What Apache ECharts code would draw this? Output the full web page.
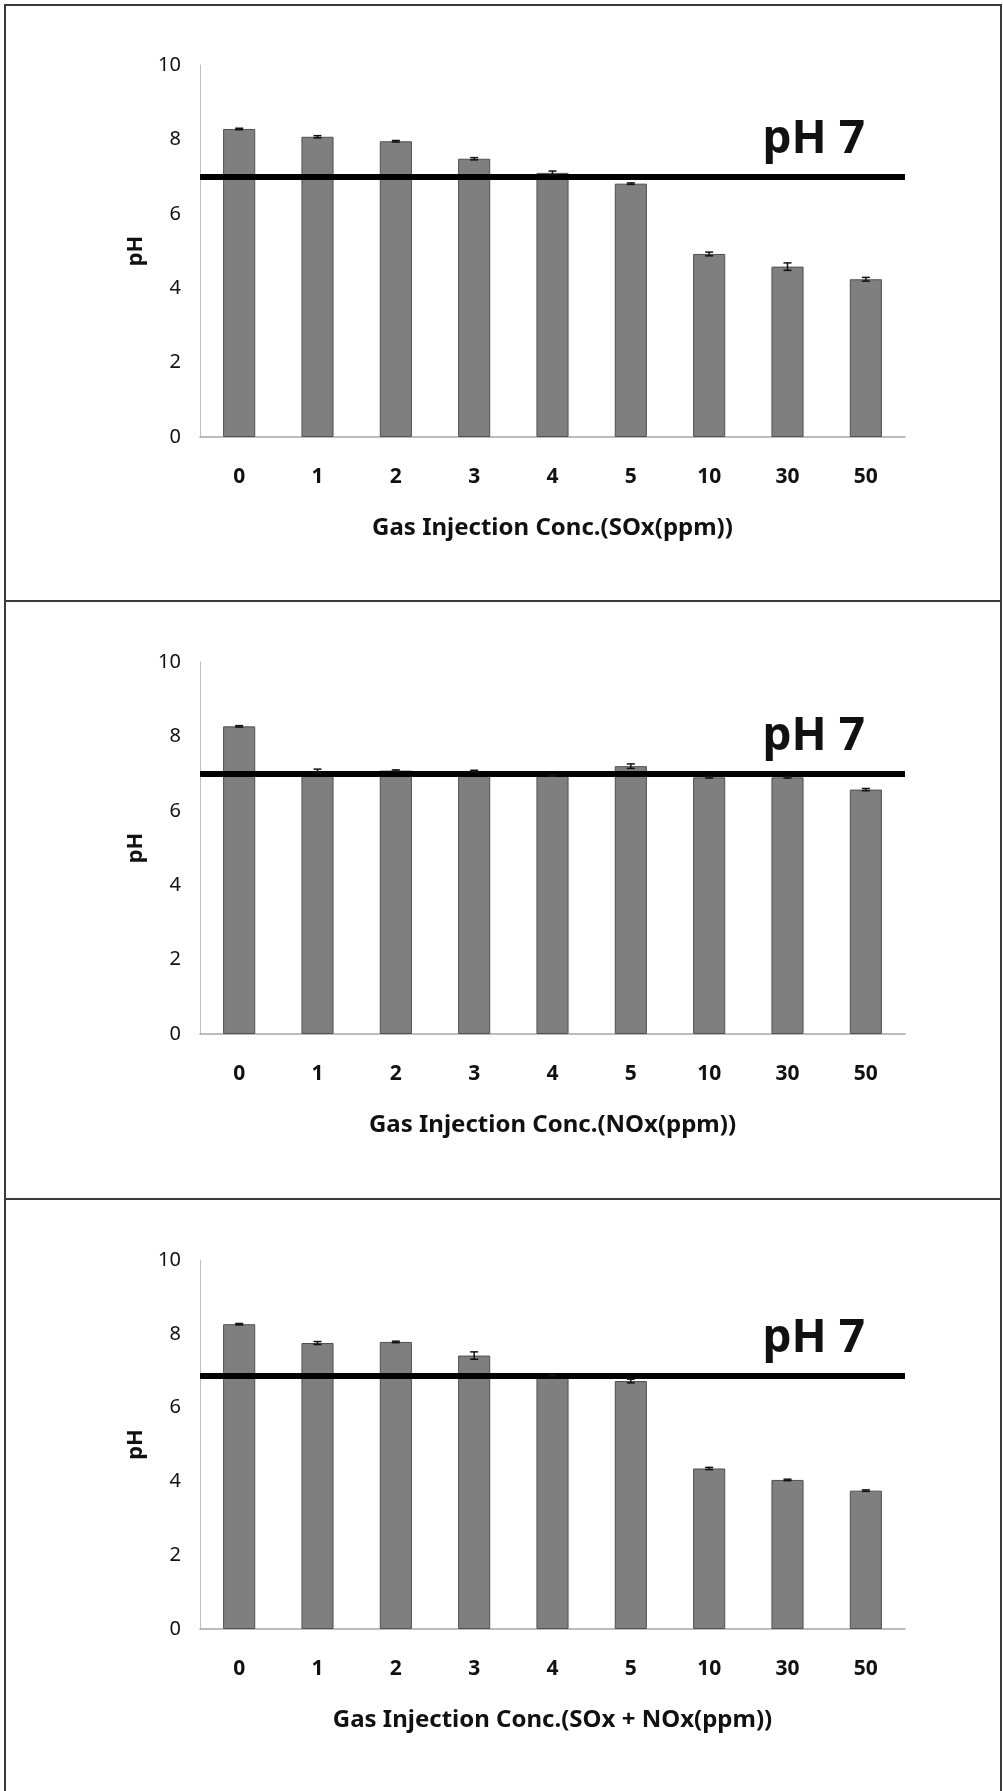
<!DOCTYPE html>
<html>
<head>
<meta charset="utf-8">
<script src="https://cdn.jsdelivr.net/npm/echarts@6/dist/echarts.min.js"></script>
<style>
  html, body { margin: 0; padding: 0; background: #fff; }
  #chart { width: 1003px; height: 1791px; }
</style>
</head>
<body>
<div id="chart"></div>
<script>
// x categories (gas concentration, ppm)
const categories = ['0', '1', '2', '3', '4', '5', '10', '30', '50'];

// pH
const soxPH = [8.28, 8.07, 7.95, 7.48, 7.10, 6.81, 4.92, 4.58, 4.24];
const noxPH = [8.27, 7.07, 7.08, 7.07, 6.95, 7.20, 6.90, 6.90, 6.57];
const mixPH = [8.26, 7.75, 7.78, 7.41, 6.88, 6.72, 4.35, 4.04, 3.75];

// error bar half widths
const soxErr = [0.02, 0.03, 0.02, 0.03, 0.05, 0.02, 0.05, 0.10, 0.05];
const noxErr = [0.02, 0.05, 0.02, 0.02, 0.02, 0.06, 0.02, 0.02, 0.03];
const mixErr = [0.02, 0.04, 0.02, 0.10, 0.02, 0.05, 0.03, 0.02, 0.02];

// reference line drawn in each panel
const refLines = [7, 7, 6.85];

const xTitles = [
  'Gas Injection Conc.(SOx(ppm))',
  'Gas Injection Conc.(NOx(ppm))',
  'Gas Injection Conc.(SOx + NOx(ppm))'
];

const FONT = '"Noto Sans", "Open Sans", sans-serif';

const panels = [
  { values: soxPH, errs: soxErr, top: 65, height: 372 },
  { values: noxPH, errs: noxErr, top: 662, height: 372 },
  { values: mixPH, errs: mixErr, top: 1260, height: 369 }
];

const chart = echarts.init(document.getElementById('chart'));

const grids = [];
const xAxes = [];
const yAxes = [];
const series = [];

panels.forEach(function(p, i) {
  grids.push({ left: 200, width: 705, top: p.top, height: p.height });

  xAxes.push({
    type: 'category',
    gridIndex: i,
    data: categories,
    axisTick: { show: false },
    axisLine: { lineStyle: { color: '#a6a6a6', width: 1.5 } },
    axisLabel: {
      margin: 30,
      fontFamily: FONT,
      fontWeight: 'bold',
      fontSize: 21,
      color: '#111'
    },
    name: xTitles[i],
    nameLocation: 'middle',
    nameGap: 79,
    nameTextStyle: {
      fontFamily: FONT,
      fontWeight: 'bold',
      fontSize: 24,
      color: '#111'
    }
  });

  yAxes.push({
    type: 'value',
    gridIndex: i,
    min: 0,
    max: 10,
    interval: 2,
    splitLine: { show: false },
    axisTick: { show: false },
    axisLine: { show: true, lineStyle: { color: '#bfbfbf', width: 1 } },
    axisLabel: {
      margin: 19,
      fontFamily: FONT,
      fontSize: 20,
      color: '#111'
    },
    name: 'pH',
    nameLocation: 'middle',
    nameGap: 48,
    nameRotate: 90,
    nameTextStyle: {
      fontFamily: FONT,
      fontWeight: 'bold',
      fontSize: 22,
      color: '#111'
    }
  });

  series.push({
    type: 'bar',
    xAxisIndex: i,
    yAxisIndex: i,
    data: p.values,
    barWidth: '41%',
    itemStyle: { color: '#7f7f7f', borderColor: '#505050', borderWidth: 1 },
    markLine: {
      silent: true,
      symbol: 'none',
      lineStyle: { color: '#000', width: 6, type: 'solid' },
      label: {
        show: true,
        position: 'insideEndTop',
        formatter: 'pH 7',
        distance: [40, 14],
        fontFamily: FONT,
        fontWeight: 'bold',
        fontSize: 46,
        color: '#111'
      },
      data: [{ yAxis: refLines[i] }]
    },
    z: 2
  });

  // error bars
  series.push({
    type: 'custom',
    xAxisIndex: i,
    yAxisIndex: i,
    data: p.values.map(function(v, k) {
      return [k, v - p.errs[k], v + p.errs[k]];
    }),
    renderItem: function(params, api) {
      const lo = api.coord([api.value(0), api.value(1)]);
      const hi = api.coord([api.value(0), api.value(2)]);
      const w = 4;
      const style = { stroke: '#111', lineWidth: 1.5 };
      return {
        type: 'group',
        children: [
          { type: 'line', shape: { x1: lo[0], y1: lo[1], x2: hi[0], y2: hi[1] }, style: style },
          { type: 'line', shape: { x1: lo[0] - w, y1: lo[1], x2: lo[0] + w, y2: lo[1] }, style: style },
          { type: 'line', shape: { x1: hi[0] - w, y1: hi[1], x2: hi[0] + w, y2: hi[1] }, style: style }
        ]
      };
    },
    z: 5
  });
});

const option = {
  animation: false,
  backgroundColor: '#fff',
  grid: grids,
  xAxis: xAxes,
  yAxis: yAxes,
  series: series,
  graphic: [
    // outer frame and panel dividers
    { type: 'rect', shape: { x: 5, y: 5, width: 996, height: 1800 },
      style: { fill: 'none', stroke: '#3a3a3a', lineWidth: 2 }, silent: true },
    { type: 'line', shape: { x1: 5, y1: 601, x2: 1001, y2: 601 },
      style: { stroke: '#3a3a3a', lineWidth: 2 }, silent: true },
    { type: 'line', shape: { x1: 5, y1: 1199, x2: 1001, y2: 1199 },
      style: { stroke: '#3a3a3a', lineWidth: 2 }, silent: true }
  ]
};

chart.setOption(option);
</script>
</body>
</html>
